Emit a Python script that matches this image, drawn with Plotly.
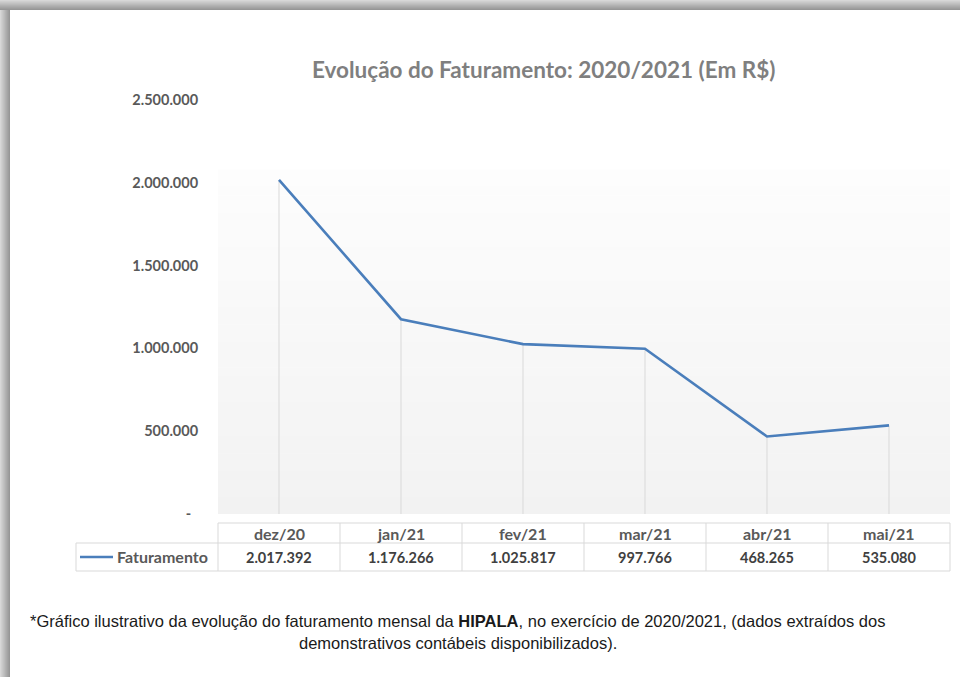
import plotly.graph_objects as go

# ---- data ----
months = ["dez/20", "jan/21", "fev/21", "mar/21", "abr/21", "mai/21"]
faturamento = [2017392, 1176266, 1025817, 997766, 468265, 535080]
y_tickvals = [0, 500000, 1000000, 1500000, 2000000, 2500000]
y_ticktext = ["-\u00a0\u00a0", "500.000", "1.000.000", "1.500.000", "2.000.000", "2.500.000"]
series_name = "Faturamento"
title_text = "Evolução do Faturamento: 2020/2021 (Em R$)"
caption_1 = "*Gráfico ilustrativo da evolução do faturamento mensal da <b>HIPALA</b>, no exercício de 2020/2021, (dados extraídos dos"
caption_2 = "demonstrativos contábeis disponibilizados)."

# ---- layout geometry (pixels) ----
W, H = 960, 677
L, R, T, B = 218, 950, 100, 514
PW, PH = R - L, B - T

def px(x):
    return (x - L) / PW

def py(y):
    return (B - y) / PH

LINE_COLOR = "#4A7EBB"
GRID_COLOR = "#D9D9D9"
FONT = "Lato"

fig = go.Figure()

# drop lines (from each point down to the axis)
fig.add_trace(go.Scatter(
    x=months, y=faturamento, mode="markers",
    marker=dict(size=1, opacity=0),
    error_y=dict(type="data", symmetric=False, array=[0] * len(faturamento),
                 arrayminus=faturamento, width=0, color=GRID_COLOR, thickness=1),
    hoverinfo="skip", showlegend=False,
))
# main line
fig.add_trace(go.Scatter(
    x=months, y=faturamento, mode="lines", name=series_name,
    line=dict(color=LINE_COLOR, width=2.6), showlegend=False,
))

shapes = []
# outer shadow (top and left)
n_sh = 10
for i in range(n_sh):
    t = i / (n_sh - 1)
    c = int(215 - 65 * t)
    col = f"rgb({c},{c},{c})"
    shapes.append(dict(type="rect", xref="paper", yref="paper",
                       x0=px(0), x1=px(W), y0=py(i), y1=py(i + 1),
                       fillcolor=col, line=dict(width=0), layer="below"))
    shapes.append(dict(type="rect", xref="paper", yref="paper",
                       x0=px(i), x1=px(i + 1), y0=py(i), y1=py(H),
                       fillcolor=col, line=dict(width=0), layer="below"))

# plot-area gradient
g_top, g_bot = 170, B
n_g = 40
for i in range(n_g):
    t = (i + 0.5) / n_g
    c = int(round(253 - (253 - 242) * t))
    y0 = g_top + (g_bot - g_top) * i / n_g
    y1 = g_top + (g_bot - g_top) * (i + 1) / n_g
    shapes.append(dict(type="rect", xref="paper", yref="paper",
                       x0=px(L), x1=px(R), y0=py(y1), y1=py(y0 - 0.5),
                       fillcolor=f"rgb({c},{c},{c})", line=dict(width=0), layer="below"))

# data table grid
tb_top, tb_mid, tb_bot = 523, 543, 571
tb_left = 76
col_w = PW / len(months)
def hline(y, x0, x1):
    shapes.append(dict(type="line", xref="paper", yref="paper",
                       x0=px(x0), x1=px(x1), y0=py(y), y1=py(y),
                       line=dict(color=GRID_COLOR, width=1)))
def vline(x, y0, y1):
    shapes.append(dict(type="line", xref="paper", yref="paper",
                       x0=px(x), x1=px(x), y0=py(y0), y1=py(y1),
                       line=dict(color=GRID_COLOR, width=1)))
hline(tb_top, L, R)
hline(tb_mid, tb_left, R)
hline(tb_bot, tb_left, R)
vline(tb_left, tb_mid, tb_bot)
for k in range(len(months) + 1):
    vline(L + k * col_w, tb_top, tb_bot)
# legend key in table
shapes.append(dict(type="line", xref="paper", yref="paper",
                   x0=px(80), x1=px(113), y0=py(557), y1=py(557),
                   line=dict(color=LINE_COLOR, width=2.6)))

annotations = []
# title
annotations.append(dict(text=f"<b>{title_text}</b>", xref="paper", yref="paper",
                        x=px(543), y=py(70), showarrow=False, xanchor="center", yanchor="middle",
                        font=dict(family=FONT, size=22.5, color="#7F7F7F")))
# table texts
for m, v in zip(months, faturamento):
    annotations.append(dict(text=f"<b>{m}</b>", xref="x", yref="paper", x=m, y=py(533),
                            showarrow=False, xanchor="center", yanchor="middle",
                            font=dict(family=FONT, size=16, color="#595959")))
    annotations.append(dict(text="<b>" + f"{v:,}".replace(",", ".") + "</b>", xref="x", yref="paper",
                            x=m, y=py(557), showarrow=False, xanchor="center", yanchor="middle",
                            font=dict(family=FONT, size=14.5, color="#404040")))
annotations.append(dict(text=f"<b>{series_name}</b>", xref="paper", yref="paper", x=px(210), y=py(556),
                        showarrow=False, xanchor="right", yanchor="middle",
                        font=dict(family=FONT, size=16, color="#595959")))
# caption
annotations.append(dict(text=caption_1, xref="paper", yref="paper", x=px(457), y=py(621),
                        showarrow=False, xanchor="center", yanchor="middle",
                        font=dict(family="Liberation Sans, Arial", size=16.5, color="#1A1A1A")))
annotations.append(dict(text=caption_2, xref="paper", yref="paper", x=px(458), y=py(643),
                        showarrow=False, xanchor="center", yanchor="middle",
                        font=dict(family="Liberation Sans, Arial", size=16.5, color="#1A1A1A")))

fig.update_layout(
    width=W, height=H, autosize=False,
    margin=dict(l=L, r=W - R, t=T, b=H - B, pad=0),
    paper_bgcolor="white", plot_bgcolor="rgba(0,0,0,0)",
    shapes=shapes, annotations=annotations, showlegend=False,
    xaxis=dict(type="category", range=[-0.5, len(months) - 0.5], showticklabels=False,
               showgrid=False, zeroline=False, showline=False, ticks="", fixedrange=True),
    yaxis=dict(range=[0, 2500000], tickvals=y_tickvals,
               ticktext=[f"<b>{t}</b>" for t in y_ticktext],
               showgrid=False, zeroline=False, showline=False,
               ticks="outside", ticklen=16, tickcolor="rgba(0,0,0,0)",
               tickfont=dict(family=FONT, size=14.5, color="#595959"), fixedrange=True),
    hovermode=False,
)

fig.write_html("out.html", config={"displayModeBar": False},
               post_script="document.body.style.margin='0';document.body.style.padding='0';")
